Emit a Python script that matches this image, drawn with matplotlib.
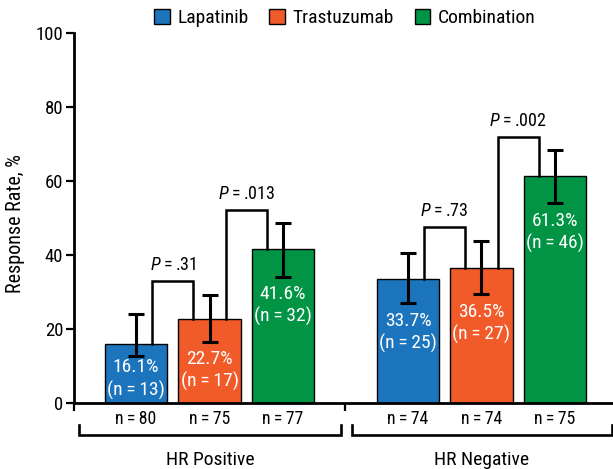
import matplotlib
matplotlib.use("Agg")
import matplotlib.pyplot as plt
from matplotlib.patches import Patch
from matplotlib import font_manager

_names = {f.name for f in font_manager.fontManager.ttflist}
_pref = ['Liberation Sans Narrow', 'Roboto Condensed', 'Open Sans Condensed', 'Roboto', 'Liberation Sans']
MAIN = next((n for n in _pref if n in _names), 'DejaVu Sans')
FONT = [MAIN, 'DejaVu Sans']
plt.rcParams['font.family'] = FONT
plt.rcParams['mathtext.fontset'] = 'custom'
plt.rcParams['mathtext.it'] = MAIN + ':italic'
plt.rcParams['mathtext.rm'] = MAIN

# ---- data ----
groups = ["HR Positive", "HR Negative"]
treatments = ["Lapatinib", "Trastuzumab", "Combination"]
colors = ["#1C75BC", "#F15A29", "#009444"]

rates_pos = [16.1, 22.7, 41.6]
rates_neg = [33.7, 36.5, 61.3]
resp_pos = [13, 17, 32]
resp_neg = [25, 27, 46]
n_pos = [80, 75, 77]
n_neg = [74, 74, 75]
ci_low_pos = [12.9, 16.6, 34.2]
ci_high_pos = [24.1, 29.3, 48.6]
ci_low_neg = [27.0, 29.5, 54.1]
ci_high_neg = [40.5, 43.9, 68.4]
p_pos = [".31", ".013"]
p_neg = [".73", ".002"]
yticks = [0, 20, 40, 60, 80, 100]

TS = "\u2009"

fig = plt.figure(figsize=(6.13, 4.69), dpi=100)
W, H = 613, 469
ax = fig.add_axes([74.3 / W, 1 - 403.3 / H, 1 - 74.3 / W, (403.3 - 33.3) / H])

gap = 1.7
bw = 0.85
xlim = (-0.84, 6.49)
group_data = [
    (rates_pos, resp_pos, n_pos, ci_low_pos, ci_high_pos, p_pos, 0.0),
    (rates_neg, resp_neg, n_neg, ci_low_neg, ci_high_neg, p_neg, 2 + gap),
]

FS_BAR = 14
FS_N = 12.8
FS_P = 13
for rates, resp, ns, lo, hi, pl, x0 in group_data:
    xs = [x0 + i for i in range(len(rates))]
    ax.bar(xs, rates, width=bw, color=colors, edgecolor="black", linewidth=1.0, zorder=2)
    yerr = [[r - l for r, l in zip(rates, lo)], [h - r for r, h in zip(rates, hi)]]
    ax.errorbar(xs, rates, yerr=yerr, fmt="none", ecolor="black", elinewidth=2.2,
                capsize=6, capthick=2.2, zorder=4)
    for x, r, k, n, l in zip(xs, rates, resp, ns, lo):
        y1 = max(l - 4.7, 9.7)
        ax.text(x, y1, f"{r:.1f}%", color="white", ha="center", va="center", fontsize=FS_BAR, zorder=5)
        ax.text(x, y1 - 6.1, f"(n{TS}={TS}{k})", color="white", ha="center", va="center", fontsize=FS_BAR, zorder=5)
        ax.text(x, -4.3, f"n{TS}={TS}{n}", color="black", ha="center", va="center", fontsize=FS_N, clip_on=False)
    # significance brackets
    off = 0.22
    for j, p in enumerate(pl):
        xa, xb = xs[j] + off, xs[j + 1] - off
        top = max(hi[j], hi[j + 1]) + 3.7
        ax.plot([xa, xa, xb, xb], [rates[j], top, top, rates[j + 1]], color="black",
                lw=1.8, zorder=3, solid_joinstyle="miter")
        ax.annotate(f"$P${TS}={TS}{p}", xy=((xa + xb) / 2, top), xytext=(0, 5.0),
                    textcoords="offset points", ha="center", va="bottom", fontsize=FS_P)

# group brackets under the axis
mid = 2 + gap / 2
brackets = [(-0.771, mid - 0.065), (mid + 0.085, xlim[1] - 0.01)]
for (a, b), g in zip(brackets, groups):
    ax.plot([a, a, b, b], [-5.95, -8.57, -8.57, -5.95], color="black", lw=1.9,
            clip_on=False, solid_joinstyle="miter")
    ax.text((a + b) / 2, -15.3, g, ha="center", va="center", fontsize=14, clip_on=False)

ax.set_xlim(*xlim)
ax.set_ylim(0, 100)
ax.set_xticks([xlim[0], mid])
ax.set_xticklabels([])
ax.set_yticks(yticks)
ax.set_yticklabels([str(t) for t in yticks], fontsize=13.5)
ax.tick_params(axis="both", direction="out", length=6, width=1.6, color="black")
ax.tick_params(axis="y", pad=2)
for s in ["top", "right"]:
    ax.spines[s].set_visible(False)
for s in ["left", "bottom"]:
    ax.spines[s].set_linewidth(2.0)

fig.text(16 / W, 1 - 224 / H, "Response Rate, %", rotation=90, ha="center", va="center", fontsize=14.5)

handles = [Patch(facecolor=c, edgecolor="black", linewidth=1.0) for c in colors]
fig.legend(handles, treatments, loc="center", bbox_to_anchor=(345 / W, 1 - 18 / H), ncol=3,
           frameon=False, handlelength=0.8, handleheight=0.8, handletextpad=0.4,
           columnspacing=1.05, fontsize=14, borderpad=0)

fig.savefig("out.png", dpi=100)
